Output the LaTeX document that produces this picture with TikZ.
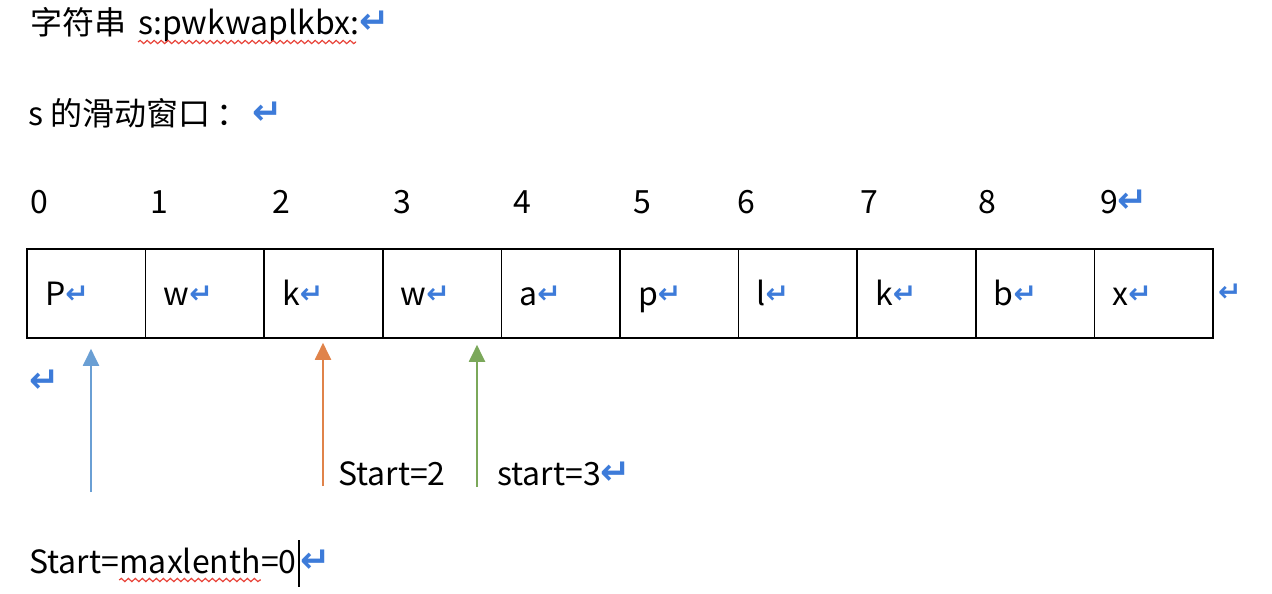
\documentclass[tikz,border=0pt]{standalone}
\usepackage{fontspec}
\setmainfont{Noto Sans CJK SC}
\newfontfamily\markfont{DejaVu Sans}
\usetikzlibrary{arrows.meta, decorations.pathmorphing}
\definecolor{MarkBlue}{HTML}{3D7BD9}
\definecolor{WavyRed}{HTML}{E8443A}
\definecolor{ArrowBlue}{HTML}{6A9FD4}
\definecolor{ArrowOrange}{HTML}{E0834A}
\definecolor{ArrowGreen}{HTML}{7BA85A}
\newcommand{\retmark}{\raisebox{1pt}{\markfont\bfseries\fontsize{36}{36}\selectfont\textcolor{MarkBlue}{↵}}}
\newcommand{\cellmark}{\raisebox{2pt}{\markfont\bfseries\fontsize{28}{28}\selectfont\textcolor{MarkBlue}{↵}}}

\begin{document}
\begin{tikzpicture}[x=1pt, y=-1pt,
    txt/.style={anchor=base west, inner sep=0pt, font=\fontsize{32}{38}\selectfont},
    cell/.style={draw, line width=1.6pt, minimum height=89pt, text width=82.6pt,
        inner xsep=18pt, inner ysep=0pt, text height=23.5pt, text depth=0pt,
        align=left, font=\fontsize{32}{38}\selectfont},
    pointer/.style={line width=2pt, -{Triangle[width=16pt, length=17pt]}},
    wavy/.style={WavyRed, line width=1.2pt, decorate,
        decoration={snake, amplitude=1.6pt, segment length=7pt}}
]
\useasboundingbox (0,0) rectangle (1272,594);

% =============================================
% Header lines
% =============================================
\node[txt] (strlbl) at (30,35) {字符串};
\node[txt] (strval) at (138,35) {s:pwkwaplkbx:};
\node[txt] (strend) at (strval.base east) {\retmark};
\draw[wavy] ([yshift=-7pt]strval.base west) -- ([yshift=-7pt, xshift=-3pt]strval.base east);

\node[txt] (winlbl) at (28,125) {s 的滑动窗口\hspace{6pt}：\hspace{4pt}\retmark};

% =============================================
% Index row
% =============================================
\node[txt] (d0) at (30,213) {0};
\node[txt] (d1) at (150,213) {1};
\node[txt] (d2) at (272,213) {2};
\node[txt] (d3) at (393,213) {3};
\node[txt] (d4) at (513,213) {4};
\node[txt] (d5) at (633,213) {5};
\node[txt] (d6) at (737,213) {6};
\node[txt] (d7) at (860,213) {7};
\node[txt] (d8) at (978,213) {8};
\node[txt] (d9) at (1100,213) {9\retmark};

% =============================================
% Character cells
% =============================================
\node[cell] (c0) at (86.3,293.5) {P\cellmark};
\node[cell] (c1) at (204.9,293.5) {w\cellmark};
\node[cell] (c2) at (323.5,293.5) {k\cellmark};
\node[cell] (c3) at (442.1,293.5) {w\cellmark};
\node[cell] (c4) at (560.7,293.5) {a\cellmark};
\node[cell] (c5) at (679.3,293.5) {p\cellmark};
\node[cell] (c6) at (797.9,293.5) {l\cellmark};
\node[cell] (c7) at (916.5,293.5) {k\cellmark};
\node[cell] (c8) at (1035.1,293.5) {b\cellmark};
\node[cell] (c9) at (1153.7,293.5) {x\cellmark};

\node[anchor=west, inner sep=0pt] (rowend) at ([xshift=4pt]c9.east) {\cellmark};
\node[anchor=west, inner sep=0pt] (gapmark) at (29,382) {\retmark};

% =============================================
% Pointers
% =============================================
\coordinate (tailA) at (91,492);
\coordinate (tailB) at (323,486);
\coordinate (tailC) at (477,487);

\draw[pointer, ArrowBlue] (tailA) -- ([yshift=-10pt]tailA |- c0.south);
\draw[pointer, ArrowOrange] (tailB) -- ([yshift=-4pt]tailB |- c2.south);
\draw[pointer, ArrowGreen] (tailC) -- ([yshift=-6pt]tailC |- c3.south);

\node[txt] (startB) at (338,485) {Start=2};
\node[txt] (startC) at (497,485) {start=3\retmark};

% bottom line
\node[txt] (maxpre) at (29,573) {Start=};
\node[txt] (maxword) at (maxpre.base east) {maxlenth};
\node[txt] (maxval) at (maxword.base east) {=0};
\node[txt] (maxend) at (maxval.base east) {\hspace{3pt}\retmark};
\draw[wavy] ([yshift=-7pt]maxword.base west) -- ([yshift=-7pt]maxword.base east);
\draw[line width=1.5pt] ([xshift=2pt, yshift=33pt]maxval.base east) -- ([xshift=2pt, yshift=-14pt]maxval.base east);

\end{tikzpicture}
\end{document}
